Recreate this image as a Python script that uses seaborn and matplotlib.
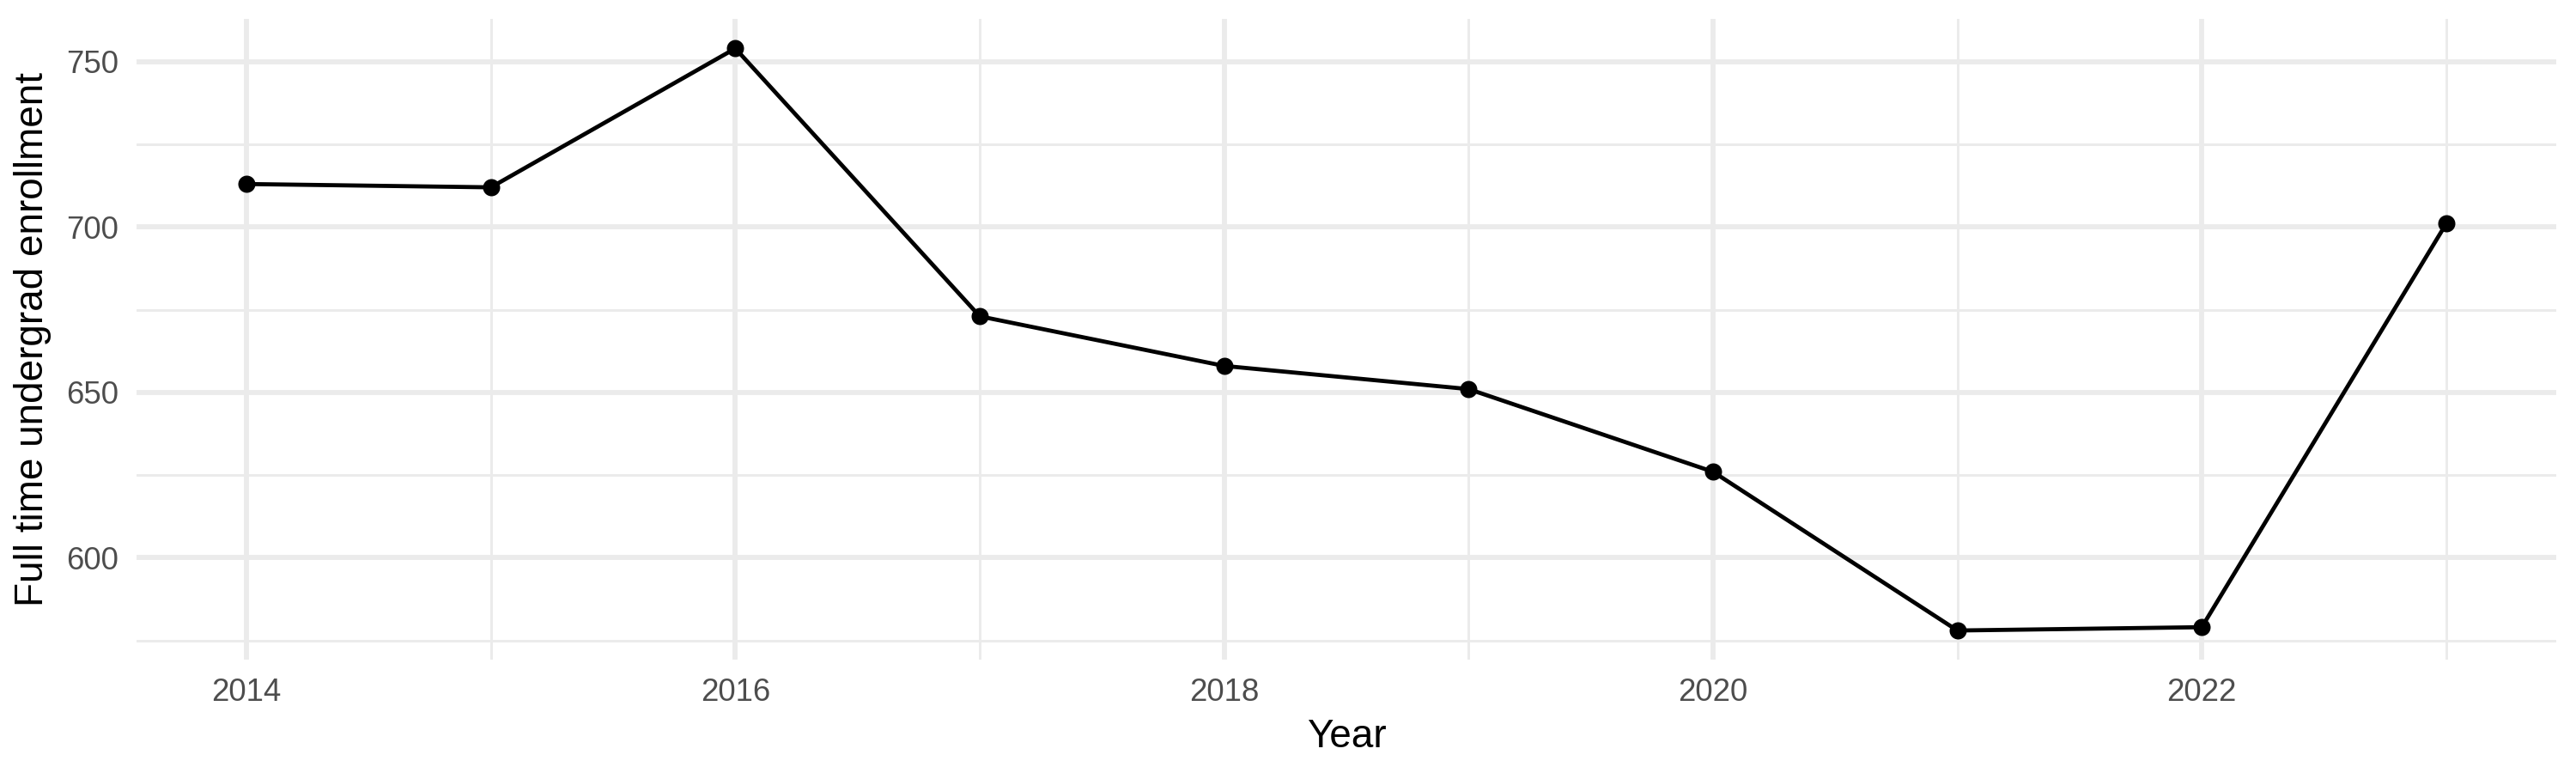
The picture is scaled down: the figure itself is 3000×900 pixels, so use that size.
import matplotlib
matplotlib.use("Agg")
import matplotlib.pyplot as plt
import seaborn as sns
import pandas as pd
from matplotlib.ticker import MultipleLocator

years = [2014, 2015, 2016, 2017, 2018, 2019, 2020, 2021, 2022, 2023]
enrollment = [713, 712, 754, 673, 658, 651, 626, 578, 579, 701]

x_label = "Year"
y_label = "Full time undergrad enrollment"

sns.set_theme(style="white")
plt.rcParams['font.family'] = ['Liberation Sans', 'DejaVu Sans']

df = pd.DataFrame({"Year": years, "Enrollment": enrollment})

fig = plt.figure(figsize=(10, 3), dpi=300)
ax = fig.add_axes([0.053, 0.1467, 0.9393, 0.8283])

sns.lineplot(data=df, x="Year", y="Enrollment", ax=ax, color="black",
             linewidth=1.15, marker="o", markersize=4.8, markeredgewidth=0,
             markerfacecolor="black")

rng = max(enrollment) - min(enrollment)
ax.set_ylim(min(enrollment) - 0.05 * rng, max(enrollment) + 0.05 * rng)
xr = max(years) - min(years)
ax.set_xlim(min(years) - 0.05 * xr, max(years) + 0.05 * xr)

ax.xaxis.set_major_locator(MultipleLocator(2))
ax.xaxis.set_minor_locator(MultipleLocator(1))
ax.yaxis.set_major_locator(MultipleLocator(50))
ax.yaxis.set_minor_locator(MultipleLocator(25))

ax.grid(which="major", color="#EBEBEB", linewidth=1.4)
ax.grid(which="minor", color="#EBEBEB", linewidth=0.7)
ax.set_axisbelow(True)
for s in ax.spines.values():
    s.set_visible(False)

ax.tick_params(which="both", length=0, pad=5, labelsize=8.8, labelcolor="#4D4D4D")
ax.set_xlabel(x_label, fontsize=11, color="black", labelpad=3)
ax.set_ylabel(y_label, fontsize=11, color="black", labelpad=4)

fig.savefig("out.png", dpi=300)
